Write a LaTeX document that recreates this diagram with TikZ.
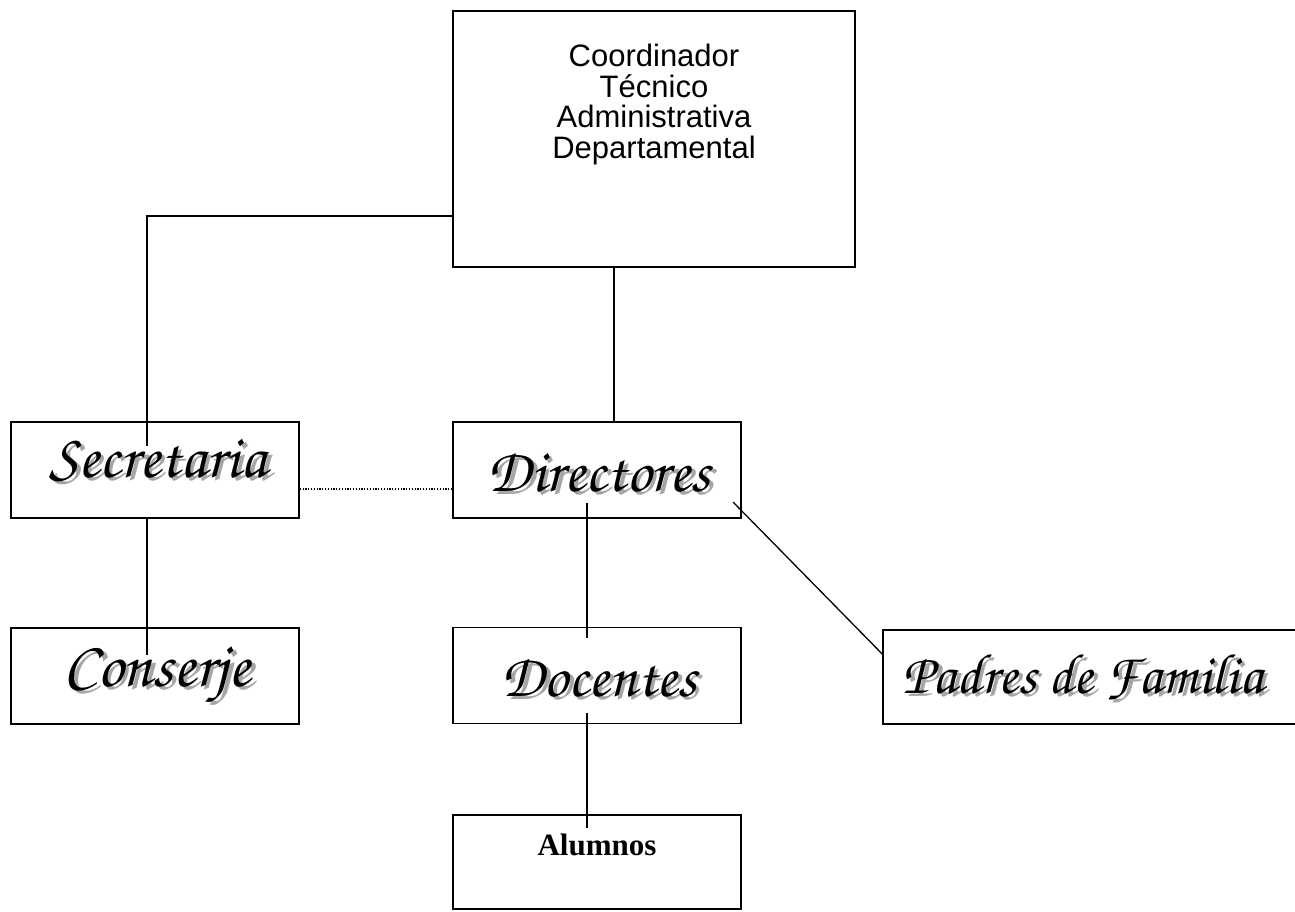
\documentclass[tikz,border=0pt]{standalone}
\usepackage[T1]{fontenc}
\usepackage{fontspec}
\usepackage{graphicx}
\newfontfamily\arialfont{Liberation Sans}
\newfontfamily\timesfont{Liberation Serif}
\newcommand\chanceryfont{\fontencoding{T1}\fontfamily{pzc}\fontseries{mb}\fontshape{it}\selectfont}
\newcommand\shadowed[1]{\chanceryfont\rlap{\textcolor{black!35}{\hspace{0.06em}\raisebox{-0.06em}{#1}}}#1}
\newcommand\fancytext[2]{\resizebox{#1}{!}{\shadowed{#2}}}
\tikzset{
  box/.style={draw, line width=1.5pt, inner sep=0pt, minimum width=288pt, minimum height=96pt},
  conn/.style={line width=1.3pt},
  lbl/.style={anchor=base, inner sep=0pt},
}
\begin{document}
\begin{tikzpicture}[x=1pt,y=-1pt]
\clip (0,0) rectangle (1295,911);
\useasboundingbox (0,0) rectangle (1295,911);
% boxes
\node[box, minimum width=402pt, minimum height=256pt] (top) at (654,139) {};
\node[box] (sec) at (155,470) {};
\node[box] (dir) at (597,470) {};
\node[box] (con) at (155,676) {};
\node[box] (doc) at (597,675.5) {};
\node[box, minimum width=420pt, minimum height=94pt] (pad) at (1093,677) {};
\node[box, minimum height=94pt] (alu) at (597,862) {};
% labels
\node[anchor=north, inner sep=0pt, align=center, font=\arialfont\fontsize{31}{30.5}\selectfont] (toplbl) at (654,44)
  {Coordinador\\Técnico\\Administrativa\\Departamental};
\node[lbl] (seclbl) at (158,477) {\fancytext{217pt}{Secretaria}};
\node[lbl] (dirlbl) at (599,491) {\fancytext{222pt}{Directores}};
\node[lbl] (conlbl) at (157,686) {\fancytext{187pt}{Conserje}};
\node[lbl] (doclbl) at (599,696) {\fancytext{195pt}{Docentes}};
\node[lbl] (padlbl) at (1083,693) {\fancytext{360pt}{Padres de Familia}};
\node[lbl, font=\timesfont\bfseries\fontsize{31}{31}\selectfont] (alulbl) at (597,855) {Alumnos};
% free ends
\coordinate (e1) at (147,446);
\coordinate (e2) at (147,655);
\coordinate (s3) at (587,503);
\coordinate (e3) at (587,638);
\coordinate (s4) at (587,713);
\coordinate (e4) at (587,828);
\coordinate (s5) at (733,502);
% connectors
\draw[conn] ([yshift=-77pt]top.west) -| (e1);
\draw[conn] ([xshift=-40pt]top.south) -- ([xshift=-40pt]top.south |- dir.north);
\draw[line width=1.2pt, dash pattern=on 1.2pt off 1.6pt] ([yshift=-19pt]sec.east) -- ([yshift=-19pt]dir.west);
\draw[conn] ([xshift=-8pt]sec.south) -- (e2);
\draw[conn] (s3) -- (e3);
\draw[conn] (s4) -- (e4);
\draw[conn] (s5) -- ([yshift=23pt]pad.west);
\end{tikzpicture}
\end{document}
